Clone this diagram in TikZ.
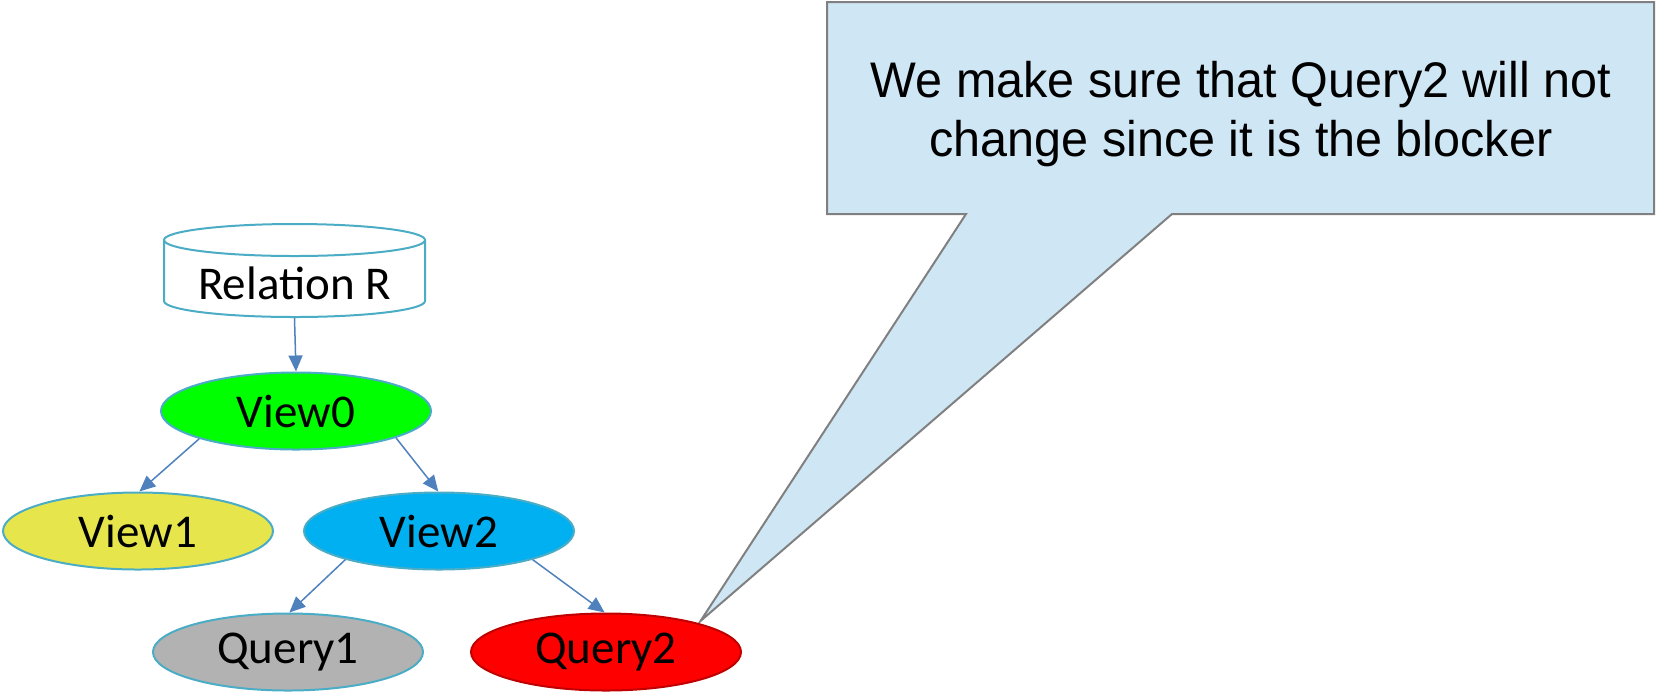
\documentclass[tikz,border=0pt]{standalone}
\usepackage{fontspec}
\setmainfont{Carlito}
\newfontfamily\notefont{Liberation Sans}
\usetikzlibrary{shapes.geometric,arrows.meta}

\definecolor{edgeblue}{RGB}{79,129,189}
\definecolor{rimblue}{RGB}{75,172,198}
\definecolor{viewgreen}{RGB}{0,255,0}
\definecolor{viewyellow}{RGB}{230,230,76}
\definecolor{viewcyan}{RGB}{0,176,240}
\definecolor{querygray}{RGB}{178,178,178}
\definecolor{queryred}{RGB}{255,0,0}
\definecolor{rimred}{RGB}{192,0,0}
\definecolor{notefill}{RGB}{207,230,244}
\definecolor{noterim}{RGB}{128,128,128}

\tikzset{
  oval/.style={ellipse, draw=rimblue, line width=1pt, inner sep=0pt,
    minimum width=135pt, minimum height=38.5pt,
    font=\fontsize{23.5pt}{28pt}\selectfont},
  link/.style={draw=edgeblue, line width=0.75pt,
    -{Triangle[length=8pt,width=7pt]}},
}

\begin{document}
\begin{tikzpicture}[x=0.5pt, y=-0.5pt]
  \useasboundingbox (0,0) rectangle (1656,693);

  % speech bubble
  \draw[fill=notefill, draw=noterim, line width=1pt, line join=miter]
    (827,2) -- (1654,2) -- (1654,214) -- (1172,214) -- (700.5,621)
    -- (966,214) -- (827,214) -- cycle;
  \node[font=\notefont\fontsize{25pt}{29.5pt}\selectfont, align=center, xscale=0.97]
    (note) at (1241,114) {We make sure that Query2 will not\\change since it is the blocker};

  % stored relation drawn as a cylinder
  \draw[draw=rimblue, line width=1pt, fill=white]
    (164,240) -- (164,301) arc[start angle=180, end angle=360, x radius=65.25pt, y radius=8pt]
    -- (425,240);
  \draw[draw=rimblue, line width=1pt] (294.5,240) ellipse[x radius=65.25pt, y radius=8pt];
  \node[font=\fontsize{23.5pt}{28pt}\selectfont] (rel) at (294.5,283) {Relation R};
  \coordinate (relbot) at (294.5,318);

  % view / query tree
  \node[oval, fill=viewgreen]  (v0) at (296,411) {View0};
  \node[oval, fill=viewyellow] (v1) at (138,531) {View1};
  \node[oval, fill=viewcyan]   (v2) at (439,531) {View2};
  \node[oval, fill=querygray]  (q1) at (288,652) {Query1};
  \node[oval, fill=queryred, draw=rimred] (q2) at (606,652) {Query2};

  \draw[link] (relbot) -- (v0.north);
  \draw[link] (v0.196) -- (v1.88);
  \draw[link] (v0.-15) -- (v2.91);
  \draw[link] (v2.197) -- (q1.88);
  \draw[link] (v2.-17) -- (q2.92);
\end{tikzpicture}
\end{document}
